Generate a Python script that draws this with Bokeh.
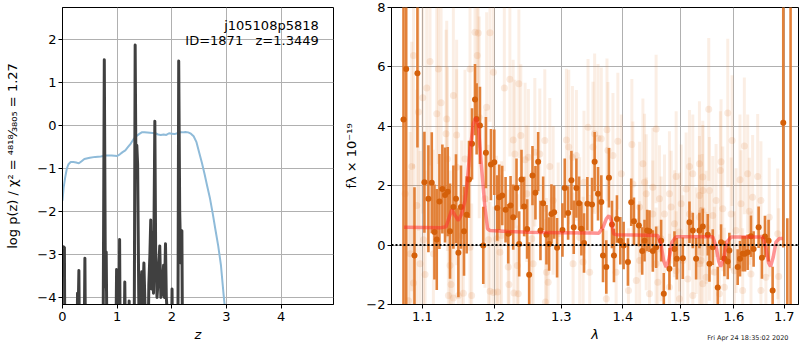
import numpy as np
from bokeh.plotting import figure
from bokeh.layouts import row
from bokeh.models import (Range1d, FixedTicker, CustomJSTickFormatter, Label, Span,
                          ColumnDataSource, Title)
from bokeh.embed import file_html
from bokeh.resources import INLINE

FONT = "DejaVu Sans"

# ---------------- left panel data ----------------
z_ticks = [0, 1, 2, 3, 4]
lp_ticks = [-4, -3, -2, -1, 0, 1, 2]

pz_z = [0.00, 0.02, 0.05, 0.08, 0.11, 0.15, 0.20, 0.25, 0.30, 0.35, 0.40,
        0.50, 0.60, 0.70, 0.80, 0.90, 1.00,
        1.05, 1.10, 1.15, 1.20, 1.25, 1.30, 1.35, 1.40, 1.45, 1.50,
        1.60, 1.70,
        1.75, 1.80, 1.85, 1.90, 1.95, 2.00, 2.05, 2.10, 2.15, 2.20, 2.25, 2.30, 2.35,
        2.40, 2.45, 2.50, 2.55, 2.60, 2.65, 2.70, 2.75, 2.80, 2.85, 2.90, 2.95, 3.00]
pz_logp = [-1.75, -1.45, -1.20, -1.00, -0.90, -0.85, -0.85, -0.86, -0.88, -0.83, -0.78,
           -0.75, -0.73, -0.72, -0.70, -0.70, -0.71,
           -0.67, -0.62, -0.58, -0.50, -0.42, -0.32, -0.25, -0.20, -0.16, -0.16,
           -0.17, -0.18,
           -0.21, -0.22, -0.21, -0.22, -0.18, -0.19, -0.20, -0.18, -0.16, -0.16, -0.15, -0.16, -0.19,
           -0.25, -0.38, -0.62, -0.86, -1.13, -1.42, -1.70, -2.05, -2.43, -2.80, -3.25, -3.95, -4.60]

chi_z = [0.000, 0.015, 0.035, 0.045, 0.260, 0.275, 0.285, 0.300, 0.315, 0.390,
         0.410, 0.425, 0.740, 0.765, 0.785, 0.800, 0.820, 0.970, 0.990, 1.010,
         1.030, 1.045, 1.060, 1.120, 1.140, 1.160, 1.210, 1.220, 1.230, 1.310,
         1.330, 1.345, 1.360, 1.375, 1.395, 1.415, 1.430, 1.450, 1.465, 1.490,
         1.510, 1.530, 1.560, 1.580, 1.600, 1.615, 1.630, 1.645, 1.665, 1.690,
         1.705, 1.730, 1.755, 1.780, 1.800, 1.820, 1.850, 1.865, 1.885, 1.900,
         1.915, 1.930, 1.990, 2.005, 2.020, 2.110, 2.127, 2.145, 2.165, 2.185,
         2.200, 2.300]
chi_logp = [-2.85, -2.82, -2.84, -6.0, -6.0, -3.90, -4.50, -3.37, -6.0, -6.0,
            -3.09, -6.0, -6.0, 1.53, -3.75, -2.94, -6.0, -6.0, -3.35, -6.0,
            -6.0, -2.65, -6.0, -6.0, -3.64, -6.0, -6.0, -4.08, -6.0, -6.0,
            1.87, -1.15, -0.46, -0.90, -3.90, -6.0, -3.90, -3.40, -4.20, -3.20,
            -4.20, -6.0, -6.0, -3.70, -3.00, -2.20, -3.80, -2.50, -3.90, 0.10,
            -2.90, -4.00, -3.50, -2.80, -4.00, -3.90, -3.25, -4.00, -2.75, -4.00,
            -4.30, -6.0, -6.0, -3.80, -6.0, -6.0, 1.50, -2.00, -3.20, -2.45,
            -6.0, -6.0]

field_name = "j105108p5818"
object_info = "ID=1871 \u00a0 z=1.3449"
left_ylabel = "log p(z) / \u03c7\u00b2 = \u2074\u2078\u00b9\u2078\u2044\u2083\u2088\u2080\u2085 = 1.27"

# ---------------- right panel data ----------------
lam_ticks = [1.1, 1.2, 1.3, 1.4, 1.5, 1.6, 1.7]
flux_ticks = [-2, 0, 2, 4, 6, 8]

bold_wave = [1.0752, 1.0787, 1.0895, 1.0934, 1.1026, 1.1079, 1.1124, 1.1160, 1.1191, 1.1227,
             1.1267, 1.1303, 1.1340, 1.1371, 1.1417, 1.1453, 1.1486, 1.1522, 1.1564, 1.1601,
             1.1634, 1.1676, 1.1718, 1.1741, 1.1788, 1.1835, 1.1873, 1.1945, 1.1993, 1.2036,
             1.2065, 1.2108, 1.2157, 1.2196, 1.2230, 1.2269, 1.2318, 1.2358, 1.2392, 1.2432,
             1.2477, 1.2507, 1.2557, 1.2602, 1.2643, 1.2678, 1.2719, 1.2770, 1.2811, 1.2847,
             1.2888, 1.2934, 1.3018, 1.3054, 1.3107, 1.3159, 1.3196, 1.3238, 1.3281, 1.3318,
             1.3360, 1.3414, 1.3489, 1.3532, 1.3587, 1.3641, 1.3669, 1.3723, 1.3767, 1.3817,
             1.3850, 1.3900, 1.3956, 1.4012, 1.4085, 1.4141, 1.4187, 1.4272, 1.4329, 1.4369,
             1.4415, 1.4455, 1.4513, 1.4571, 1.4659, 1.4706, 1.4806, 1.4896, 1.4938, 1.5046,
             1.5167, 1.5228, 1.5289, 1.5350, 1.5412, 1.5505, 1.5536, 1.5598, 1.5692, 1.5755,
             1.5818, 1.5882, 1.5913, 1.6073, 1.6118, 1.6170, 1.6215, 1.6267, 1.6332, 1.6384,
             1.6483, 1.6549, 1.6609, 1.6682, 1.6763, 1.6979, 1.7062, 1.7129]
bold_flux = [4.23, 5.93, -0.35, 5.79, 2.12, 1.56, 2.10, 0.44, 0.19, 1.47,
             1.89, 1.69, 1.80, 0.47, 1.28, 1.56, -0.26, 1.28, 0.47, 1.02,
             2.21, 3.41, 4.90, 4.25, 4.03, -0.01, 3.11, 2.71, 2.79, 1.25,
             1.61, 1.67, 1.19, 0.38, 1.33, 0.94, 1.92, 0.04, 2.21, 1.30,
             0.54, -1.00, 2.34, 1.76, 2.81, 0.49, 1.41, 0.35, 0.04, 1.05,
             1.11, -0.09, 0.51, 1.92, 1.08, 2.18, 0.60, 1.92, 1.41, 0.55,
             0.07, 1.39, 1.37, 2.81, 1.73, 1.45, -0.35, -0.74, 2.27, 0.69,
             -0.35, 0.88, 0.15, -0.01, -0.57, 1.44, 0.80, 0.66, -0.20, 0.15,
             0.49, 0.47, -0.20, -0.07, 0.15, -1.64, -0.80, -0.13, -0.46, -0.44,
             0.77, 0.49, -0.46, 0.49, 0.63, 0.35, -0.63, -0.07, -1.43, 0.10,
             -0.45, -0.55, -0.18, -0.74, -0.46, -0.29, -0.29, -0.24, 0.30, -0.13,
             0.60, -0.43, 0.29, 0.15, -1.53, 4.12, -3.50, 10.0]
bold_err = [10.0, 10.0, 2.3, 2.5, 1.7, 1.8, 1.7, 1.6, 1.7, 1.6,
            1.5, 1.6, 1.5, 1.6, 1.4, 1.5, 1.5, 1.4, 1.5, 1.3,
            1.3, 1.2, 1.2, 1.2, 1.3, 1.3, 1.2, 1.2, 1.1, 1.1,
            1.1, 1.0, 1.1, 1.0, 1.0, 1.1, 1.0, 1.1, 1.0, 1.0,
            1.0, 1.1, 1.0, 0.9, 1.0, 1.0, 0.9, 1.0, 0.9, 1.0,
            0.9, 1.0, 0.9, 1.0, 0.9, 1.0, 0.9, 1.0, 0.9, 0.9,
            1.0, 0.9, 0.9, 1.0, 0.9, 0.9, 0.9, 0.9, 1.0, 0.8,
            0.9, 0.8, 0.8, 0.8, 0.8, 0.8, 0.8, 0.7, 0.8, 0.7,
            0.7, 0.7, 0.7, 0.7, 0.7, 0.7, 0.7, 0.6, 0.7, 0.7,
            0.7, 0.6, 0.7, 0.6, 0.6, 0.7, 0.6, 0.6, 0.7, 0.6,
            0.6, 0.6, 0.6, 0.6, 0.6, 0.6, 0.6, 0.6, 0.7, 0.6,
            0.7, 0.7, 0.7, 0.7, 0.8, 4.2, 4.4, 13.0]

faint_wave = [1.0882, 1.1101, 1.1213, 1.1057, 1.1004, 1.1417, 1.1249, 1.1191, 1.1326, 1.0947,
              1.1462, 1.1317, 1.1718, 1.1764, 1.1931, 1.1750, 1.1648, 1.1980, 1.1883, 1.1778,
              1.0860, 1.0773, 1.0926, 1.1013, 1.1371, 1.1035, 1.0882, 1.0817, 1.1349, 1.1417,
              1.1486, 1.1555, 1.1671, 1.1931, 1.1980, 1.1385, 1.1648, 1.1910, 1.2026, 1.1335,
              1.1462, 1.1578, 1.0839, 1.0969, 1.1146, 1.1532, 1.1860,
              1.2220, 1.2139, 1.2353, 1.2269, 1.2382, 1.2294, 1.2496, 1.2446, 1.2744, 1.2668,
              1.2592, 1.2821, 1.3080, 1.3117, 1.3238, 1.3175, 1.3425, 1.3532, 1.3587, 1.3505,
              1.3641, 1.2075, 1.2206, 1.2280, 1.2343, 1.2196, 1.2330, 1.2567, 1.2770, 1.2796,
              1.3185, 1.3345, 1.3451, 1.2098, 1.2547, 1.2951, 1.3291, 1.2755, 1.2040, 1.2471,
              1.2873, 1.3360,
              1.3915, 1.3734, 1.4152, 1.3750, 1.3833, 1.4571, 1.4341, 1.3973, 1.4169, 1.4369,
              1.4513, 1.4926, 1.5167, 1.5350, 1.5228, 1.5107, 1.5412, 1.4398, 1.4630, 1.4806,
              1.4836, 1.5016, 1.4284, 1.4513, 1.4718, 1.5167, 1.5350, 1.4896, 1.4986, 1.4398,
              1.4659, 1.5289, 1.4284, 1.4571, 1.5046, 1.5350, 1.4926, 1.4227, 1.4600, 1.5137,
              1.5474, 1.4806, 1.4094, 1.4455, 1.5228, 1.3723, 1.4986, 1.3886,
              1.5523, 1.5882, 1.5965, 1.6202, 1.5755, 1.5742, 1.5412, 1.6118, 1.6267, 1.6464,
              1.5536, 1.5350, 1.5661, 1.6364, 1.6529, 1.6137, 1.5400, 1.5598, 1.5787, 1.5946,
              1.6300, 1.6695, 1.5474, 1.6041, 1.6866, 1.5536, 1.6009, 1.6332, 1.6628, 1.5629,
              1.5412, 1.5818, 1.6170, 1.6529, 1.6886, 1.5723, 1.5381]
faint_flux = [6.38, 6.18, 5.93, 5.29, 4.96, 5.04, 4.79, 4.42, 4.25, 4.48,
              3.71, 3.75, 7.17, 7.14, 7.15, 6.38, 5.93, 5.82, 4.64, 4.30,
              2.65, 1.73, 1.33, 0.18, -0.69, -0.99, -1.28, -1.87, -1.70, -1.78,
              -1.70, -1.62, -1.70, -1.55, -1.60, -1.33, -0.07, 0.18, 0.21, 2.90,
              2.62, 2.90, -0.29, -0.63, -0.29, 0.32, 1.56,
              5.58, 5.29, 5.43, 3.54, 3.69, 3.07, 2.96, 2.87, 3.52, 3.07,
              3.13, 2.65, 3.54, 3.30, 3.02, 2.96, 3.97, 3.75, 3.60, 3.30,
              3.58, -0.24, -1.33, -1.61, -1.64, -0.74, -0.69, -0.63, -0.91, -1.25,
              -0.63, -0.57, -0.91, 0.32, 0.21, 0.38, 0.26, -1.92, -1.58, 1.73,
              1.50, 2.12,
              3.50, 3.88, 3.39, 3.19, 3.02, 3.91, 2.74, 2.40, 2.06, 2.12,
              1.95, 2.31, 2.65, 2.74, 2.40, 1.89, 1.84, 1.73, 1.56, 1.73,
              1.28, 1.39, 1.28, 1.05, 1.05, 1.05, 0.94, 0.72, 0.44, 0.38,
              0.21, 0.15, -0.52, -0.63, -0.52, -0.63, -0.86, -1.19, -1.25, -1.14,
              -1.08, -1.42, -1.53, -1.64, -1.70, -1.81, -1.81, -0.91,
              4.57, 4.45, 3.52, 3.34, 2.81, 2.51, 2.29, 2.20, 2.40, 2.31,
              1.84, 1.67, 1.50, 1.61, 1.50, 1.39, 1.17, 1.00, 1.22, 1.05,
              1.14, 0.94, 0.60, 0.49, 0.38, -0.07, -0.86, -0.97, -1.08, -0.91,
              -1.30, -1.42, -1.53, -1.53, -1.06, -1.64, -0.52]
faint_err = [3.8, 3.5, 3.2, 3.6, 3.9, 3.1, 3.4, 3.7, 3.3, 4.0,
             3.2, 3.5, 2.8, 2.9, 3.0, 3.1, 3.3, 2.9, 3.2, 3.4,
             4.2, 4.5, 3.9, 3.6, 3.2, 3.5, 4.0, 4.4, 3.1, 3.0,
             3.2, 3.3, 3.1, 3.0, 2.9, 3.3, 3.4, 3.2, 2.8, 3.1,
             3.3, 3.0, 4.1, 3.8, 3.5, 3.2, 3.0,
             2.6, 2.8, 2.5, 2.7, 2.4, 2.5, 2.3, 2.6, 2.4, 2.2,
             2.5, 2.3, 2.4, 2.6, 2.2, 2.4, 2.3, 2.7, 2.5, 2.2,
             2.4, 2.6, 2.8, 2.5, 2.3, 2.6, 2.4, 2.2, 2.5, 2.3,
             2.4, 2.2, 2.6, 2.5, 2.3, 2.4, 2.7, 2.8, 2.4, 2.3,
             2.5, 2.4,
             2.3, 2.4, 2.2, 2.3, 2.1, 2.5, 2.2, 2.0, 2.1, 2.3,
             2.0, 2.2, 1.9, 2.1, 2.0, 1.9, 2.2, 2.0, 1.8, 2.1,
             1.9, 2.0, 2.2, 1.8, 2.0, 1.9, 2.1, 1.8, 2.0, 1.9,
             2.1, 1.8, 2.0, 1.9, 2.2, 1.8, 2.0, 2.1, 1.9, 2.0,
             2.2, 1.8, 2.1, 2.0, 1.9, 2.3, 2.0, 2.1,
             2.4, 2.5, 2.2, 2.3, 2.1, 2.0, 1.9, 2.2, 2.0, 2.1,
             1.8, 2.0, 1.9, 2.1, 2.0, 1.8, 1.9, 2.0, 2.1, 1.9,
             1.8, 2.0, 1.9, 2.1, 2.2, 1.8, 2.0, 2.1, 1.9, 2.2,
             1.9, 2.0, 2.1, 1.9, 2.3, 2.0, 1.8]

model_wave = [1.0759, 1.1236, 1.1317, 1.1394, 1.1440, 1.1486, 1.1532, 1.1578, 1.1601, 1.1648,
              1.1695, 1.1732, 1.1765, 1.1811, 1.1858, 1.1897, 1.1931, 1.2200, 1.2517, 1.3000,
              1.3474, 1.3600, 1.3669, 1.3723, 1.3767, 1.3806, 1.3845, 1.3889, 1.4200, 1.4600,
              1.4659, 1.4706, 1.4747, 1.4794, 1.4853, 1.4926, 1.5598, 1.5661, 1.5710, 1.5748,
              1.5799, 1.5862, 1.5946, 1.6562, 1.6628, 1.6682, 1.6722, 1.6776, 1.6830, 1.6898,
              1.6966]
model_flux = [0.60, 0.58, 0.62, 1.19, 1.00, 0.83, 1.05, 1.50, 1.95, 3.19,
              4.09, 4.30, 4.00, 2.62, 1.28, 0.55, 0.49, 0.46, 0.43, 0.42,
              0.41, 0.40, 0.60, 0.88, 0.99, 0.83, 0.38, 0.35, 0.34, 0.32,
              0.00, -0.55, -0.74, -0.50, 0.10, 0.28, 0.28, -0.05, -0.55, -0.72,
              -0.50, 0.10, 0.27, 0.27, -0.10, -0.60, -0.72, -0.40, 0.10, 0.22,
              0.22]

timestamp = "Fri Apr 24 18:35:02 2020"

assert len(pz_z) == len(pz_logp)
assert len(chi_z) == len(chi_logp)
assert len(bold_wave) == len(bold_flux) == len(bold_err)
assert len(faint_wave) == len(faint_flux) == len(faint_err)
assert len(model_wave) == len(model_flux)

ORANGE = "#e07a2e"
ORANGE_DARK = "#d4600a"

H = 348
TOP = 7
BOTTOM = 44

int_fmt = CustomJSTickFormatter(code="return tick < 0 ? '\u2212' + Math.abs(tick) : String(tick);")


def style(p, xlabel, ylabel, ylabel_standoff):
    p.outline_line_color = "black"
    p.outline_line_width = 1
    p.outline_line_alpha = 1
    p.background_fill_color = "white"
    p.border_fill_color = "white"
    for ax in p.axis:
        ax.major_label_text_font = FONT
        ax.major_label_text_font_size = "13px"
        ax.major_label_text_color = "black"
        ax.axis_label_text_font = FONT
        ax.axis_label_text_font_size = "13px"
        ax.axis_label_text_color = "black"
        ax.minor_tick_line_color = None
        ax.major_tick_in = 0
        ax.major_tick_out = 4
        ax.major_tick_line_color = "black"
        ax.axis_line_color = "black"
        ax.major_label_standoff = 2
    p.xaxis.major_label_standoff = 3
    p.xaxis.axis_label = xlabel
    p.xaxis.axis_label_text_font_style = "italic"
    p.xaxis.axis_label_standoff = 3
    p.yaxis.axis_label = ylabel
    p.yaxis.axis_label_text_font_style = "normal"
    p.yaxis.axis_label_standoff = ylabel_standoff
    p.grid.grid_line_color = "#b0b0b0"
    p.grid.grid_line_width = 1


# ---------------- left figure ----------------
p1 = figure(width=337, height=H, title=None,
            x_range=Range1d(0, 4.96), y_range=Range1d(-4.163, 2.744),
            output_backend="svg", toolbar_location=None,
            min_border_left=62, min_border_right=4, min_border_top=TOP,
            min_border_bottom=BOTTOM)
style(p1, "z", left_ylabel, 14)
xt1 = FixedTicker(ticks=z_ticks)
yt1 = FixedTicker(ticks=lp_ticks)
p1.xaxis.ticker = xt1
p1.xgrid.ticker = xt1
p1.yaxis.ticker = yt1
p1.ygrid.ticker = yt1
p1.xaxis.formatter = int_fmt
p1.yaxis.formatter = int_fmt

p1.line(pz_z, pz_logp, line_color="#8fbbd9", line_width=2)
p1.line(chi_z, chi_logp, line_color="#404040", line_width=3, line_join="round")

p1.add_layout(Label(x=4.69, y=2.33, text=field_name, text_align="right",
                    text_baseline="middle", text_font=FONT, text_font_size="13px",
                    text_color="black"))
p1.add_layout(Label(x=4.69, y=1.98, text=object_info, text_align="right",
                    text_baseline="middle", text_font=FONT, text_font_size="13px",
                    text_color="black"))

# ---------------- right figure ----------------
p2 = figure(width=462, height=H, title=None, x_axis_type="log",
            x_range=Range1d(1.0598, 1.7293), y_range=Range1d(-2, 8),
            output_backend="svg", toolbar_location=None,
            min_border_left=54, min_border_right=1, min_border_top=TOP,
            min_border_bottom=BOTTOM)
style(p2, "\u03bb", "f\u03bb \u00d7 10\u207b\u00b9\u2079", 4)
xt2 = FixedTicker(ticks=lam_ticks)
yt2 = FixedTicker(ticks=flux_ticks)
p2.xaxis.ticker = xt2
p2.xgrid.ticker = xt2
p2.yaxis.ticker = yt2
p2.ygrid.ticker = yt2
p2.xaxis.formatter = CustomJSTickFormatter(code="return tick.toFixed(1);")
p2.yaxis.formatter = int_fmt

fw = np.array(faint_wave)
ff = np.array(faint_flux)
fe = np.array(faint_err)
src_f = ColumnDataSource(dict(x=fw, y=ff, lo=ff - fe, hi=ff + fe))
p2.segment(x0="x", y0="lo", x1="x", y1="hi", source=src_f,
           line_color=ORANGE, line_alpha=0.13, line_width=3)
p2.scatter("x", "y", source=src_f, size=7, fill_color=ORANGE, fill_alpha=0.15,
           line_color=None)

bw = np.array(bold_wave)
bf = np.array(bold_flux)
be = np.array(bold_err)
src_b = ColumnDataSource(dict(x=bw, y=bf, lo=bf - be, hi=bf + be))
p2.segment(x0="x", y0="lo", x1="x", y1="hi", source=src_b,
           line_color=ORANGE, line_alpha=0.95, line_width=2.6)
p2.scatter("x", "y", source=src_b, size=6, fill_color=ORANGE_DARK, line_color=None)

p2.line(model_wave, model_flux, line_color="#ff2a2a", line_alpha=0.5, line_width=3.5)

p2.add_layout(Span(location=0, dimension="width", line_color="black",
                   line_dash="2 2", line_width=2))

p2.add_layout(Title(text=timestamp, align="right", vertical_align="top", text_font=FONT,
                    text_font_size="6.5px", text_font_style="normal",
                    text_color="#222222", standoff=-22, offset=10), "below")

layout = row(p1, p2)
open("out.html", "w").write(file_html(layout, INLINE))
